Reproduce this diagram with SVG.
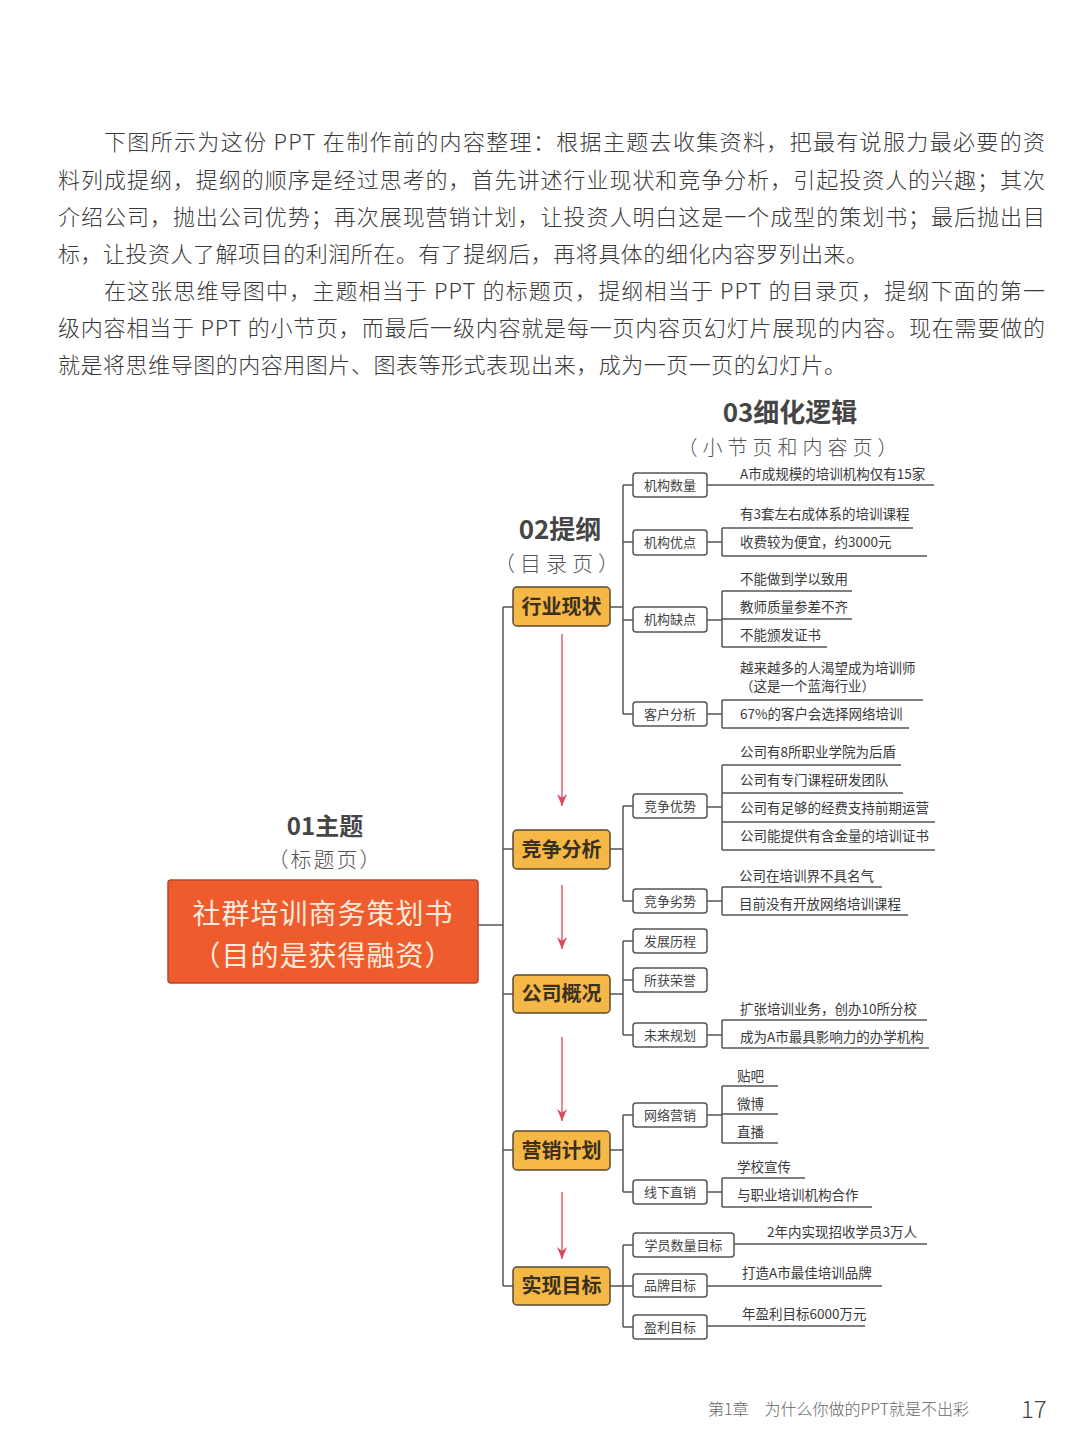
<svg xmlns="http://www.w3.org/2000/svg" width="1080" height="1452" viewBox="0 0 1080 1452">
<style>
.body{font-family:"Noto Sans CJK SC","Liberation Sans",sans-serif;font-size:22px;fill:#3a3a3a;font-weight:300}
.hd{font-family:"Noto Sans CJK SC","Liberation Sans",sans-serif;font-size:26px;font-weight:700;fill:#454545;text-anchor:middle}
.sub{font-family:"Noto Sans CJK SC",sans-serif;font-size:21px;fill:#555;text-anchor:middle;font-weight:300}
.main{fill:#EE5B2D;stroke:#b5472a;stroke-width:1.5}
.maint{font-family:"Noto Sans CJK SC",sans-serif;font-size:28px;fill:#fdeadc;text-anchor:middle;letter-spacing:1px}
.yel{fill:#F5B745;stroke:#5a4a30;stroke-width:1.5}
.yelt{font-family:"Noto Sans CJK SC",sans-serif;font-size:20px;font-weight:700;fill:#3a3020;text-anchor:middle}
.box{fill:#fff;stroke:#555;stroke-width:1.5}
.boxt{font-family:"Noto Sans CJK SC",sans-serif;font-size:13px;fill:#444;text-anchor:middle}
.dt{font-family:"Noto Sans CJK SC",sans-serif;font-size:13.5px;fill:#3a3a3a}
.ln{fill:none;stroke:#555;stroke-width:1.5}
.arr{fill:none;stroke:#d9475a;stroke-width:1.3}
.foot{font-family:"Noto Sans CJK SC",sans-serif;font-size:16px;fill:#666;font-weight:300}
</style>
<defs>
<marker id="ah" viewBox="0 0 12 10" refX="12" refY="5" markerWidth="12" markerHeight="10" markerUnits="userSpaceOnUse" orient="auto">
<path d="M0,0 L12,5 L0,10 L4,5 Z" fill="#d9475a"/>
</marker>
</defs>
<rect width="1080" height="1452" fill="#ffffff"/>

<g id="paragraphs">
<text class="body" x="104" y="150" textLength="941" lengthAdjust="spacing">下图所示为这份 PPT 在制作前的内容整理：根据主题去收集资料，把最有说服力最必要的资</text>
<text class="body" x="58" y="188" textLength="987" lengthAdjust="spacing">料列成提纲，提纲的顺序是经过思考的，首先讲述行业现状和竞争分析，引起投资人的兴趣；其次</text>
<text class="body" x="58" y="225" textLength="987" lengthAdjust="spacing">介绍公司，抛出公司优势；再次展现营销计划，让投资人明白这是一个成型的策划书；最后抛出目</text>
<text class="body" x="58" y="262" textLength="810" lengthAdjust="spacing">标，让投资人了解项目的利润所在。有了提纲后，再将具体的细化内容罗列出来。</text>
<text class="body" x="104" y="299" textLength="941" lengthAdjust="spacing">在这张思维导图中，主题相当于 PPT 的标题页，提纲相当于 PPT 的目录页，提纲下面的第一</text>
<text class="body" x="58" y="336" textLength="987" lengthAdjust="spacing">级内容相当于 PPT 的小节页，而最后一级内容就是每一页内容页幻灯片展现的内容。现在需要做的</text>
<text class="body" x="58" y="373" textLength="788" lengthAdjust="spacing">就是将思维导图的内容用图片、图表等形式表现出来，成为一页一页的幻灯片。</text>
</g>

<g id="headers">
<text class="hd" x="325" y="835" style="font-size:24px">01主题</text>
<text class="sub" x="325" y="867" style="letter-spacing:2px">（标题页）</text>
<text class="hd" x="560" y="539">02提纲</text>
<text class="sub" x="559" y="571" style="letter-spacing:5px">（目录页）</text>
<text class="hd" x="790" y="422">03细化逻辑</text>
<text class="sub" x="790" y="455" style="font-size:20px;letter-spacing:5px">（小节页和内容页）</text>
</g>

<g id="connectors">
<path class="ln" d="M478,925 H503 M503,607 V1286"/>
<path class="ln" d="M503,607 H513 M503,849 H513 M503,994 H513 M503,1150 H513 M503,1286 H513"/>
<path class="ln" d="M610,607 H623 M623,485 V714 M623,485 H633 M623,542 H633 M623,620 H633 M623,714 H633"/>
<path class="ln" d="M707,485 H934"/>
<path class="ln" d="M707,542 H722 M722,528 V556 M722,528 H913 M722,556 H927"/>
<path class="ln" d="M707,620 H722 M722,591 V647 M722,591 H852 M722,619 H852 M722,647 H827"/>
<path class="ln" d="M707,714 H722 M722,700 V728 M722,700 H923 M722,728 H909"/>
<path class="ln" d="M610,849 H623 M623,806 V901 M623,806 H633 M623,901 H633"/>
<path class="ln" d="M707,807 H722 M722,765 V850 M722,765 H901 M722,793 H903 M722,822 H935 M722,850 H935"/>
<path class="ln" d="M707,901 H722 M722,887 V915 M722,887 H882 M722,915 H908"/>
<path class="ln" d="M610,994 H623 M623,941 V1035 M623,941 H633 M623,980 H633 M623,1035 H633"/>
<path class="ln" d="M707,1035 H722 M722,1020 V1048 M722,1020 H927 M722,1048 H929"/>
<path class="ln" d="M610,1150 H623 M623,1115 V1192 M623,1115 H633 M623,1192 H633"/>
<path class="ln" d="M707,1115 H722 M722,1086 V1143 M722,1086 H778 M722,1114 H778 M722,1143 H778"/>
<path class="ln" d="M707,1192 H722 M722,1178 V1207 M722,1178 H805 M722,1207 H872"/>
<path class="ln" d="M610,1286 H623 M623,1245 V1327 M623,1245 H633 M623,1286 H633 M623,1327 H633"/>
<path class="ln" d="M734,1244 H927 M707,1286 H882 M707,1326 H865"/>
<path class="arr" d="M562,634 V806" marker-end="url(#ah)"/>
<path class="arr" d="M562,885 V949" marker-end="url(#ah)"/>
<path class="arr" d="M562,1037 V1121" marker-end="url(#ah)"/>
<path class="arr" d="M562,1192 V1259" marker-end="url(#ah)"/>
</g>

<g id="node-main">
<rect class="main" x="168" y="880" width="310" height="103" rx="3"/>
<text class="maint" x="323" y="924">社群培训商务策划书</text>
<text class="maint" x="323" y="966">（目的是获得融资）</text>
</g>

<g id="node-hangye">
<rect class="yel" x="513" y="587" width="97" height="39" rx="4"/>
<text class="yelt" x="561.5" y="614">行业现状</text>
</g>
<g id="node-jingzheng">
<rect class="yel" x="513" y="830" width="97" height="39" rx="4"/>
<text class="yelt" x="561.5" y="857">竞争分析</text>
</g>
<g id="node-gongsi">
<rect class="yel" x="513" y="975" width="97" height="38" rx="4"/>
<text class="yelt" x="561.5" y="1001">公司概况</text>
</g>
<g id="node-yingxiao">
<rect class="yel" x="513" y="1131" width="97" height="39" rx="4"/>
<text class="yelt" x="561.5" y="1158">营销计划</text>
</g>
<g id="node-mubiao">
<rect class="yel" x="513" y="1267" width="97" height="38" rx="4"/>
<text class="yelt" x="561.5" y="1293">实现目标</text>
</g>

<g id="node-jigoushuliang">
<rect class="box" x="633" y="473" width="74" height="24" rx="3"/>
<text class="boxt" x="670" y="490">机构数量</text>
<text class="dt" x="740" y="479">A市成规模的培训机构仅有15家</text>
</g>
<g id="node-jigouyoudian">
<rect class="box" x="633" y="530" width="74" height="25" rx="3"/>
<text class="boxt" x="670" y="547">机构优点</text>
<text class="dt" x="740" y="519">有3套左右成体系的培训课程</text>
<text class="dt" x="740" y="547">收费较为便宜，约3000元</text>
</g>
<g id="node-jigouquedian">
<rect class="box" x="633" y="607" width="74" height="25" rx="3"/>
<text class="boxt" x="670" y="624">机构缺点</text>
<text class="dt" x="740" y="584">不能做到学以致用</text>
<text class="dt" x="740" y="612">教师质量参差不齐</text>
<text class="dt" x="740" y="640">不能颁发证书</text>
</g>
<g id="node-kehufenxi">
<rect class="box" x="633" y="702" width="74" height="24" rx="3"/>
<text class="boxt" x="670" y="719">客户分析</text>
<text class="dt" x="740" y="673">越来越多的人渴望成为培训师</text>
<text class="dt" x="740" y="691">（这是一个蓝海行业）</text>
<text class="dt" x="740" y="719">67%的客户会选择网络培训</text>
</g>
<g id="node-jingzhengyoushi">
<rect class="box" x="633" y="794" width="74" height="24" rx="3"/>
<text class="boxt" x="670" y="811">竞争优势</text>
<text class="dt" x="740" y="757">公司有8所职业学院为后盾</text>
<text class="dt" x="740" y="785">公司有专门课程研发团队</text>
<text class="dt" x="740" y="813">公司有足够的经费支持前期运营</text>
<text class="dt" x="740" y="841">公司能提供有含金量的培训证书</text>
</g>
<g id="node-jingzhengdieshi">
<rect class="box" x="633" y="889" width="74" height="24" rx="3"/>
<text class="boxt" x="670" y="906">竞争劣势</text>
<text class="dt" x="739" y="881">公司在培训界不具名气</text>
<text class="dt" x="739" y="909">目前没有开放网络培训课程</text>
</g>
<g id="node-fazhanlicheng">
<rect class="box" x="633" y="929" width="74" height="24" rx="3"/>
<text class="boxt" x="670" y="946">发展历程</text>
</g>
<g id="node-suohuorongyu">
<rect class="box" x="633" y="968" width="74" height="24" rx="3"/>
<text class="boxt" x="670" y="985">所获荣誉</text>
</g>
<g id="node-weilaiguihua">
<rect class="box" x="633" y="1023" width="74" height="24" rx="3"/>
<text class="boxt" x="670" y="1040">未来规划</text>
<text class="dt" x="740" y="1014">扩张培训业务，创办10所分校</text>
<text class="dt" x="740" y="1042">成为A市最具影响力的办学机构</text>
</g>
<g id="node-wangluoyingxiao">
<rect class="box" x="633" y="1103" width="74" height="24" rx="3"/>
<text class="boxt" x="670" y="1120">网络营销</text>
<text class="dt" x="737" y="1081">贴吧</text>
<text class="dt" x="737" y="1109">微博</text>
<text class="dt" x="737" y="1137">直播</text>
</g>
<g id="node-xianxiazhixiao">
<rect class="box" x="633" y="1180" width="74" height="24" rx="3"/>
<text class="boxt" x="670" y="1197">线下直销</text>
<text class="dt" x="737" y="1172">学校宣传</text>
<text class="dt" x="737" y="1200">与职业培训机构合作</text>
</g>
<g id="node-xueyuan">
<rect class="box" x="633" y="1233" width="101" height="24" rx="3"/>
<text class="boxt" x="683.5" y="1250">学员数量目标</text>
<text class="dt" x="767" y="1237">2年内实现招收学员3万人</text>
</g>
<g id="node-pinpai">
<rect class="box" x="633" y="1274" width="74" height="23" rx="3"/>
<text class="boxt" x="670" y="1290">品牌目标</text>
<text class="dt" x="742" y="1278">打造A市最佳培训品牌</text>
</g>
<g id="node-yingli">
<rect class="box" x="633" y="1315" width="74" height="24" rx="3"/>
<text class="boxt" x="670" y="1332">盈利目标</text>
<text class="dt" x="742" y="1319">年盈利目标6000万元</text>
</g>

<g id="footer">
<text class="foot" x="708" y="1415">第1章　为什么你做的PPT就是不出彩</text>
<text class="foot" x="1021" y="1418" style="font-size:24px;fill:#444">17</text>
</g>
</svg>
